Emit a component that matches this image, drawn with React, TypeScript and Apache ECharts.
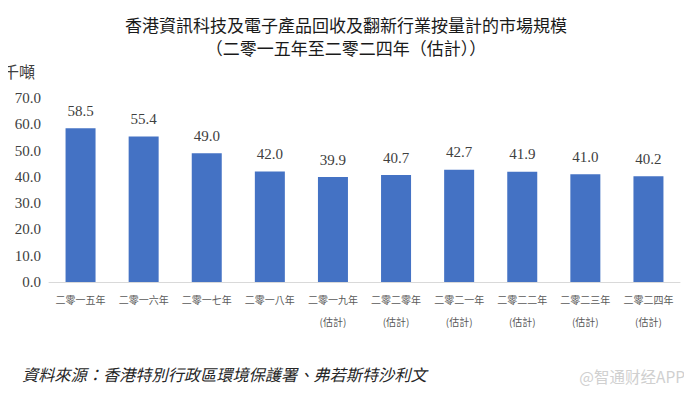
import React, { useEffect, useRef } from "react";
import * as echarts from "echarts";

const categories = [
  "二零一五年",
  "二零一六年",
  "二零一七年",
  "二零一八年",
  "二零一九年\n(估計)",
  "二零二零年\n(估計)",
  "二零二一年\n(估計)",
  "二零二二年\n(估計)",
  "二零二三年\n(估計)",
  "二零二四年\n(估計)",
];
const values = [58.5, 55.4, 49.0, 42.0, 39.9, 40.7, 42.7, 41.9, 41.0, 40.2];
const titleLine1 = "香港資訊科技及電子產品回收及翻新行業按量計的市場規模";
const titleLine2 = "（二零一五年至二零二四年（估計））";
const unitLabel = "千噸";
const sourceText = "資料來源：香港特別行政區環境保護署、弗若斯特沙利文";
const watermark = "@智通财经APP";

export default function App() {
  const ref = useRef<HTMLDivElement>(null);
  useEffect(() => {
    if (!ref.current) return;
    const chart = echarts.init(ref.current, null, { renderer: "svg" });
    const serif = "'Liberation Serif', 'Noto Sans CJK TC', serif";
    chart.setOption({
      animation: false,
      backgroundColor: "#ffffff",
      title: {
        text: titleLine1 + "\n" + titleLine2,
        left: "center",
        top: 8,
        textStyle: {
          fontSize: 17,
          fontWeight: "normal",
          color: "#1a1a1a",
          lineHeight: 23,
          fontFamily: "'Noto Sans CJK TC', sans-serif",
        },
      },
      grid: { left: 48, right: 12, top: 98, bottom: 115, containLabel: false },
      xAxis: {
        type: "category",
        data: categories,
        axisLine: { lineStyle: { color: "#d9d9d9" } },
        axisTick: { show: false },
        axisLabel: {
          color: "#595959",
          fontSize: 10,
          lineHeight: 22,
          margin: 6,
          interval: 0,
          fontFamily: "'Noto Sans CJK TC', sans-serif",
        },
      },
      yAxis: {
        type: "value",
        min: 0,
        max: 70,
        interval: 10,
        name: unitLabel,
        nameLocation: "end",
        nameGap: 18,
        nameTextStyle: {
          color: "#404040",
          fontSize: 16,
          fontFamily: serif,
          align: "left",
          padding: [0, 0, 0, -46],
        },
        splitLine: { show: false },
        axisLine: { show: false },
        axisTick: { show: false },
        axisLabel: {
          color: "#404040",
          fontSize: 15,
          fontFamily: serif,
          margin: 8,
          formatter: (v: number) => v.toFixed(1),
        },
      },
      series: [
        {
          type: "bar",
          data: values,
          barWidth: 30,
          itemStyle: { color: "#4472c4" },
          label: {
            show: true,
            position: "top",
            distance: 10,
            color: "#404040",
            fontSize: 15,
            fontFamily: serif,
            formatter: (p: any) => Number(p.value).toFixed(1),
          },
        },
      ],
      graphic: [
        {
          type: "text",
          left: 22,
          top: 368,
          style: {
            text: sourceText,
            fontSize: 16.2,
            fontStyle: "italic",
            fill: "#262626",
            fontFamily: serif,
          },
        },
        {
          type: "text",
          right: 7,
          top: 368,
          style: {
            text: watermark,
            fontSize: 15.5,
            fill: "#d0d0d0",
            fontFamily: "'Noto Sans CJK SC', sans-serif",
          },
        },
      ],
    });
    return () => chart.dispose();
  }, []);
  return <div ref={ref} style={{ width: 692, height: 397, margin: -8 }} />;
}
